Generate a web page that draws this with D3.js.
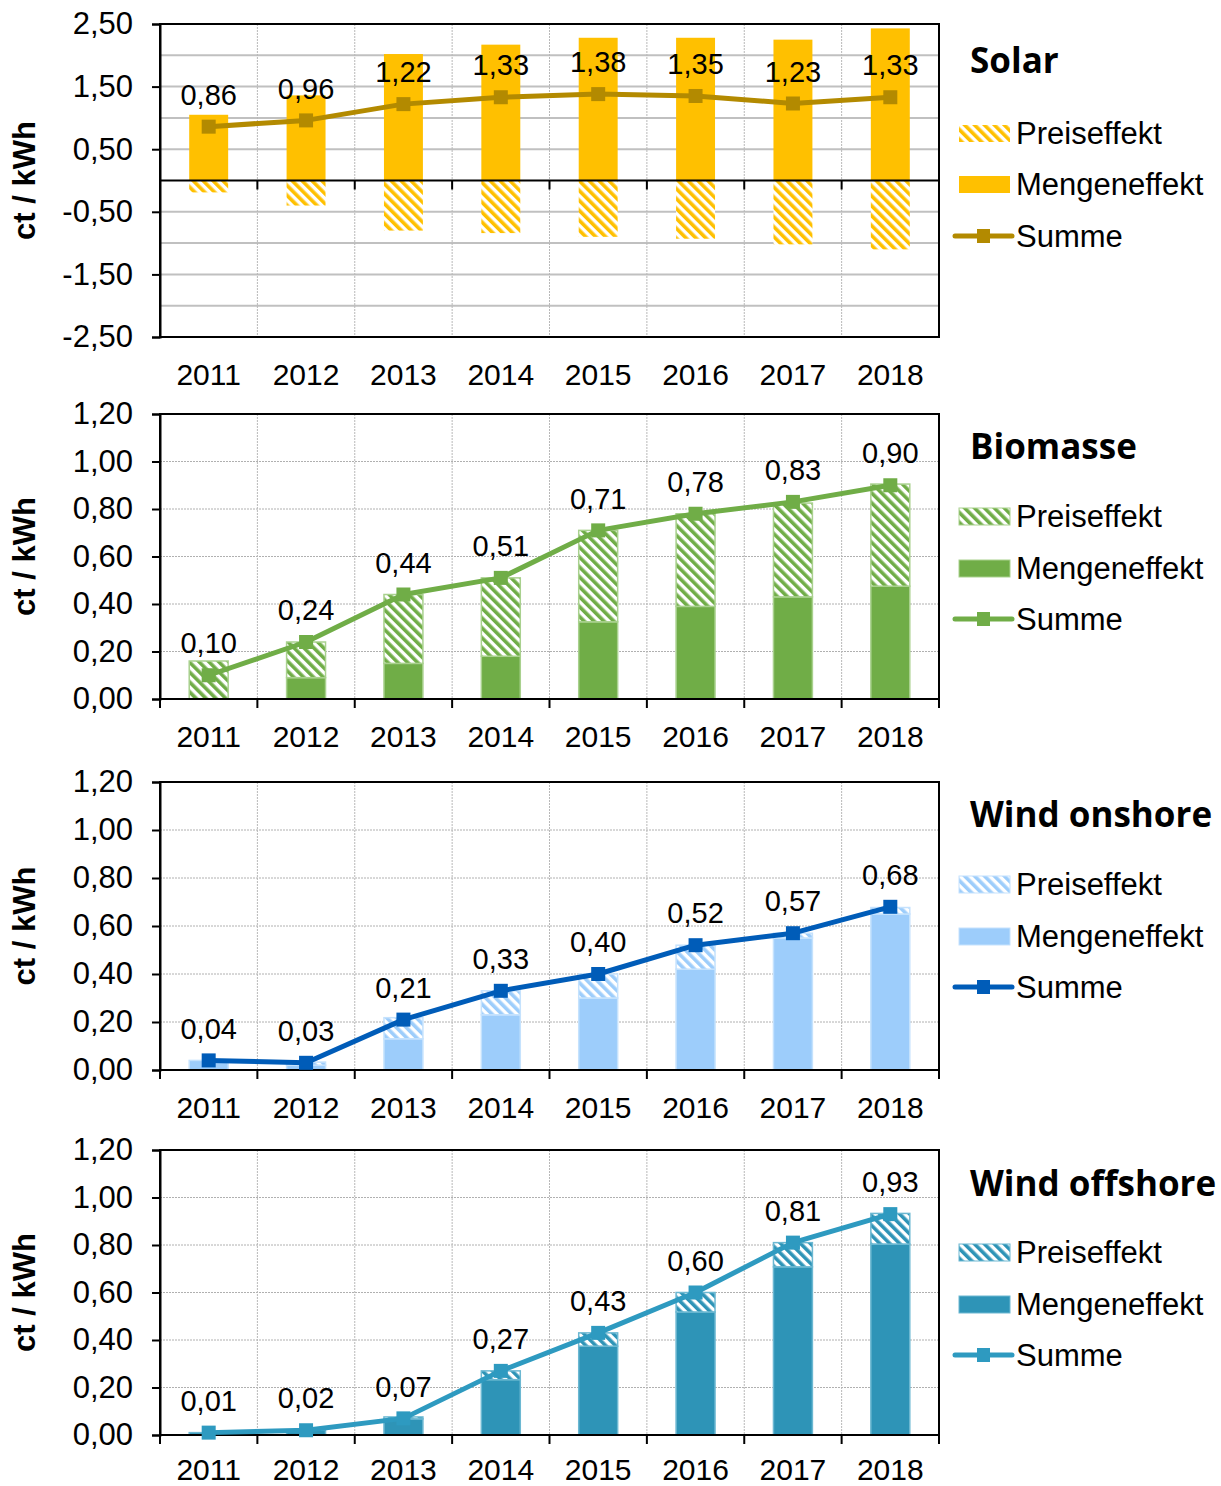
<!DOCTYPE html>
<html lang="de">
<head>
<meta charset="utf-8">
<title>Preis- und Mengeneffekt</title>
<script src="https://d3js.org/d3.v7.min.js"></script>
<style>
  body { margin: 0; background: #fff; }
  text { font-family: "Liberation Sans", Arial, sans-serif; fill: #000; }
  .titel { font-family: "Open Sans", "DejaVu Sans", sans-serif; font-weight: bold; }
</style>
</head>
<body>
<div id="chart"></div>
<script>
"use strict";

// Daten (ct / kWh)
const jahre = ["2011", "2012", "2013", "2014", "2015", "2016", "2017", "2018"];

const solarMenge = [1.05, 1.36, 2.02, 2.17, 2.28, 2.28, 2.25, 2.43];
const solarPreis = [-0.19, -0.40, -0.80, -0.84, -0.90, -0.93, -1.02, -1.10];
const solarSumme = [0.86, 0.96, 1.22, 1.33, 1.38, 1.35, 1.23, 1.33];

const bioMenge = [0.00, 0.09, 0.15, 0.18, 0.325, 0.39, 0.43, 0.475];
const bioPreis = [0.16, 0.15, 0.29, 0.33, 0.385, 0.39, 0.395, 0.43];
const bioSumme = [0.10, 0.24, 0.44, 0.51, 0.71, 0.78, 0.83, 0.90];

const onMenge = [0.04, 0.02, 0.13, 0.23, 0.30, 0.42, 0.55, 0.65];
const onPreis = [0.00, 0.013, 0.088, 0.10, 0.10, 0.10, 0.02, 0.027];
const onSumme = [0.04, 0.03, 0.21, 0.33, 0.40, 0.52, 0.57, 0.68];

const offMenge = [0.01, 0.02, 0.068, 0.233, 0.374, 0.518, 0.708, 0.804];
const offPreis = [0.00, 0.003, 0.008, 0.037, 0.056, 0.082, 0.102, 0.129];
const offSumme = [0.01, 0.02, 0.07, 0.27, 0.43, 0.60, 0.81, 0.93];

const solarTicks = [2.5, 1.5, 0.5, -0.5, -1.5, -2.5];
const solarGrid = [2.0, 1.0, -1.0, -2.0, 1.5, 0.5, -0.5, -1.5];
const windTicks = [0, 0.2, 0.4, 0.6, 0.8, 1.0, 1.2];

const legendeTexte = ["Preiseffekt", "Mengeneffekt", "Summe"];

// Layout
const breite = 1221, hoehe = 1486;
const links = 160, rechts = 939;

const panels = [
  { name: "Solar", menge: solarMenge, preis: solarPreis, summe: solarSumme,
    top: 24, bottom: 337, domain: [-2.5, 2.5], ticks: solarTicks, grid: solarGrid, solidGrid: true,
    farbe: "#FFC000", linie: "#B38A00", rand: "none", titelY: 61, legY: [133, 184, 236] },
  { name: "Biomasse", menge: bioMenge, preis: bioPreis, summe: bioSumme,
    top: 414, bottom: 699, domain: [0, 1.2], ticks: windTicks, grid: windTicks, solidGrid: false,
    farbe: "#70AD47", linie: "#70AD47", rand: "#A9D18E", titelY: 447, legY: [516, 568, 619] },
  { name: "Wind onshore", menge: onMenge, preis: onPreis, summe: onSumme,
    top: 782, bottom: 1070, domain: [0, 1.2], ticks: windTicks, grid: windTicks, solidGrid: false,
    farbe: "#9DCDFB", linie: "#005CB8", rand: "#C5E2FD", titelY: 815, legY: [884, 936, 987] },
  { name: "Wind offshore", menge: offMenge, preis: offPreis, summe: offSumme,
    top: 1150, bottom: 1435, domain: [0, 1.2], ticks: windTicks, grid: windTicks, solidGrid: false,
    farbe: "#2E94B7", linie: "#2E9AC0", rand: "#6CB8D2", titelY: 1184, legY: [1252, 1304, 1355] }
];

const de = d3.formatLocale({ decimal: ",", thousands: ".", grouping: [3], currency: ["", " €"], minus: "-" });
const fmt = de.format(".2f");

const svg = d3.select("#chart").append("svg")
  .attr("width", breite).attr("height", hoehe);
svg.append("rect").attr("width", breite).attr("height", hoehe).attr("fill", "#fff");

const defs = svg.append("defs");

const x = d3.scaleBand().domain(jahre).range([links, rechts])
  .paddingInner(0.6).paddingOuter(0.3);
const schritt = x.step();

panels.forEach((p, pi) => {
  // Schraffur
  const pid = "schraffur" + pi;
  const pat = defs.append("pattern").attr("id", pid)
    .attr("patternUnits", "userSpaceOnUse").attr("width", 7).attr("height", 7)
    .attr("patternTransform", "rotate(-45)");
  pat.append("rect").attr("width", 7).attr("height", 7).attr("fill", "#fff");
  pat.append("rect").attr("width", 3.6).attr("height", 7).attr("fill", p.farbe);

  const y = d3.scaleLinear().domain(p.domain).range([p.bottom, p.top]);
  const g = svg.append("g");

  // horizontale Gitterlinien
  g.selectAll(".hgrid").data(p.grid.filter(v => v !== p.domain[0] && v !== p.domain[1] && v !== 0))
    .enter().append("line")
    .attr("x1", links).attr("x2", rechts)
    .attr("y1", d => y(d)).attr("y2", d => y(d))
    .attr("stroke", p.solidGrid ? "#C0C0C0" : "#B0B0B0")
    .attr("stroke-width", p.solidGrid ? 2 : 1)
    .attr("stroke-dasharray", p.solidGrid ? null : "2,1");

  // vertikale Gitterlinien
  g.selectAll(".vgrid").data(d3.range(1, jahre.length))
    .enter().append("line")
    .attr("x1", i => links + i * schritt).attr("x2", i => links + i * schritt)
    .attr("y1", p.top).attr("y2", p.bottom)
    .attr("stroke", "#B8B8B8").attr("stroke-width", 1).attr("stroke-dasharray", "2,1");

  // Balken gestapelt
  const zeilen = jahre.map((j, i) => ({ jahr: j, menge: p.menge[i], preis: p.preis[i] }));
  const stapel = d3.stack().keys(["menge", "preis"]).offset(d3.stackOffsetDiverging)(zeilen);

  stapel.forEach(serie => {
    g.selectAll(".bar-" + serie.key).data(serie).enter().append("rect")
      .attr("x", d => x(d.data.jahr))
      .attr("width", x.bandwidth())
      .attr("y", d => y(Math.max(d[0], d[1])))
      .attr("height", d => Math.abs(y(d[0]) - y(d[1])))
      .attr("fill", serie.key === "menge" ? p.farbe : "url(#" + pid + ")")
      .attr("stroke", d => Math.abs(d[1] - d[0]) > 0.004 ? p.rand : "none")
      .attr("stroke-width", 1.5);
  });

  // Rahmen
  g.append("rect").attr("x", links).attr("y", p.top)
    .attr("width", rechts - links).attr("height", p.bottom - p.top)
    .attr("fill", "none").attr("stroke", "#000").attr("stroke-width", 2);

  // y-Achse
  const yAchse = g.append("g").attr("transform", "translate(" + links + ",0)")
    .call(d3.axisLeft(y).tickValues(p.ticks).tickSize(8).tickPadding(19).tickFormat(fmt));
  yAchse.select(".domain").attr("stroke", "#000").attr("stroke-width", 2);
  yAchse.selectAll(".tick line").attr("stroke", "#000").attr("stroke-width", 2);
  yAchse.selectAll(".tick text").attr("font-size", 31)
    .attr("font-family", "'Liberation Sans', Arial, sans-serif");

  // Nulllinie mit Teilstrichen
  const y0 = y(0);
  g.append("line").attr("x1", links).attr("x2", rechts).attr("y1", y0).attr("y2", y0)
    .attr("stroke", "#000").attr("stroke-width", 2);
  g.selectAll(".xtick").data(d3.range(0, jahre.length + 1)).enter().append("line")
    .attr("x1", i => links + i * schritt).attr("x2", i => links + i * schritt)
    .attr("y1", y0).attr("y2", y0 + 9)
    .attr("stroke", "#000").attr("stroke-width", 2);

  // Jahreszahlen
  const labelY = Math.min(p.bottom + 37, hoehe - 17);
  const xAchse = g.append("g").attr("transform", "translate(0," + labelY + ")")
    .call(d3.axisBottom(x).tickSize(0).tickPadding(0));
  xAchse.select(".domain").remove();
  xAchse.selectAll(".tick text").attr("font-size", 30).attr("dy", "0.35em")
    .attr("font-family", "'Liberation Sans', Arial, sans-serif");

  // Summe Linie
  const punkte = jahre.map((j, i) => ({ jahr: j, wert: p.summe[i] }));
  const mitte = d => x(d.jahr) + x.bandwidth() / 2;
  g.append("path").datum(punkte)
    .attr("d", d3.line().x(mitte).y(d => y(d.wert)))
    .attr("fill", "none").attr("stroke", p.linie).attr("stroke-width", 5)
    .attr("stroke-linejoin", "round");
  g.selectAll(".marker").data(punkte).enter().append("rect")
    .attr("x", d => mitte(d) - 7).attr("y", d => y(d.wert) - 7)
    .attr("width", 14).attr("height", 14).attr("fill", p.linie);

  // Datenbeschriftung
  g.selectAll(".wert").data(punkte).enter().append("text")
    .attr("x", mitte).attr("y", d => y(d.wert) - 32)
    .attr("dy", "0.35em").attr("text-anchor", "middle").attr("font-size", 29)
    .text(d => fmt(d.wert));

  // y-Achsentitel
  g.append("text")
    .attr("transform", "translate(24," + ((p.top + p.bottom) / 2) + ") rotate(-90)")
    .attr("text-anchor", "middle").attr("dy", "0.35em")
    .attr("font-size", 31).attr("font-weight", "bold")
    .text("ct / kWh");

  // Legende
  g.append("text").attr("class", "titel")
    .attr("x", 970).attr("y", p.titelY).attr("dy", "0.35em")
    .attr("font-size", 35).text(p.name);

  const leg = g.selectAll(".leg").data(legendeTexte).enter().append("g")
    .attr("transform", (d, i) => "translate(0," + p.legY[i] + ")");
  leg.append("text").attr("x", 1016).attr("dy", "0.35em").attr("font-size", 31).text(d => d);

  leg.filter((d, i) => i === 0).append("rect")
    .attr("x", 959).attr("y", -8).attr("width", 51).attr("height", 17)
    .attr("fill", "url(#" + pid + ")").attr("stroke", p.rand).attr("stroke-width", 1);
  leg.filter((d, i) => i === 1).append("rect")
    .attr("x", 959).attr("y", -8).attr("width", 51).attr("height", 17)
    .attr("fill", p.farbe).attr("stroke", p.rand).attr("stroke-width", 1);
  const sl = leg.filter((d, i) => i === 2);
  sl.append("line").attr("x1", 955).attr("x2", 1012).attr("y1", 0).attr("y2", 0)
    .attr("stroke", p.linie).attr("stroke-width", 5).attr("stroke-linecap", "round");
  sl.append("rect").attr("x", 977).attr("y", -7).attr("width", 13).attr("height", 14)
    .attr("fill", p.linie);
});
</script>
</body>
</html>
